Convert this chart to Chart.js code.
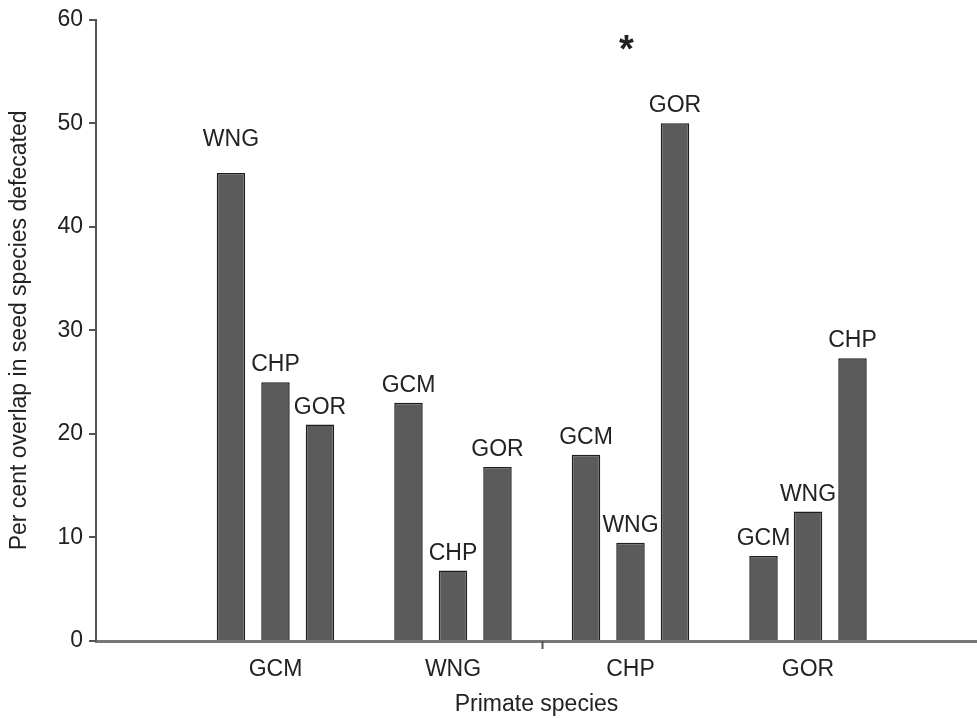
<!DOCTYPE html>
<html>
<head>
<meta charset="utf-8">
<script src="https://cdn.jsdelivr.net/npm/chart.js@4.4.0/dist/chart.umd.min.js"></script>
<style>
  html, body { margin:0; padding:0; background:#fff; }
  #wrap { width:977px; height:719px; }
</style>
</head>
<body>
<div id="wrap"><canvas id="chart" width="977" height="719"></canvas></div>
<script>
// groups on the x axis (defecating primate) and where they sit on the linear axis
const groups = ['GCM', 'WNG', 'CHP', 'GOR'];
const groupPos = [1, 2, 3, 4];

// three bars per group: per cent overlap with each other species
const firstVals = [45.2, 23.0, 18.0, 8.2];
const firstNames = ['WNG', 'GCM', 'GCM', 'GCM'];
const secondVals = [25.0, 6.8, 9.5, 12.5];
const secondNames = ['CHP', 'CHP', 'WNG', 'WNG'];
const thirdVals = [20.9, 16.8, 50.0, 27.3];
const thirdNames = ['GOR', 'GOR', 'GOR', 'CHP'];

// significance marker above a group
const starred = ['', '', '*', ''];
const starLevel = 58.0;

const yTicks = [0, 10, 20, 30, 40, 50, 60];

const FONT = '"Liberation Sans", Arial, Helvetica, sans-serif';
const INK = '#222';

// extra lift for labels that sit higher than usual above their bar
const labelLift = [[16, 0, 0, 0], [0, 0, 0, 0], [0, 0, 0, 0]];

function toPoints(vals){
  return groupPos.map((x, i) => ({ x, y: vals[i] }));
}

const barLabels = {
  id: 'barLabels',
  afterDatasetsDraw(chart){
    const ctx = chart.ctx;
    const xs = chart.scales.x, ys = chart.scales.y;
    ctx.save();
    ctx.fillStyle = INK;
    ctx.textAlign = 'center';
    ctx.textBaseline = 'alphabetic';
    ctx.font = '23px ' + FONT;
    chart.data.datasets.forEach((ds, di) => {
      chart.getDatasetMeta(di).data.forEach((bar, i) => {
        ctx.fillText(ds.names[i], bar.x, bar.y - 11 - labelLift[di][i]);
      });
    });
    // asterisk
    const starSize = 38;
    ctx.font = 'bold ' + starSize + 'px ' + FONT;
    starred.forEach((s, i) => {
      if(!s) return;
      ctx.fillText(s, xs.getPixelForValue(groupPos[i]) - 4, ys.getPixelForValue(starLevel) + 0.57 * starSize);
    });
    // lone tick mark below the x axis, between WNG and CHP
    const tx = Math.round(xs.getPixelForValue(2.5)) + 0.5;
    ctx.strokeStyle = '#555';
    ctx.lineWidth = 2;
    ctx.beginPath();
    ctx.moveTo(tx, chart.chartArea.bottom);
    ctx.lineTo(tx, chart.chartArea.bottom + 8);
    ctx.stroke();
    ctx.restore();
  }
};

const barStyle = {
  backgroundColor: '#5b5b5b',
  borderColor: '#1e1e1e',
  borderWidth: 1.5,
  categoryPercentage: 0.752,
  barPercentage: 0.64
};

new Chart(document.getElementById('chart'), {
  type: 'bar',
  data: {
    datasets: [
      { ...barStyle, label: 'first', data: toPoints(firstVals), names: firstNames },
      { ...barStyle, label: 'second', data: toPoints(secondVals), names: secondNames },
      { ...barStyle, label: 'third', data: toPoints(thirdVals), names: thirdNames }
    ]
  },
  options: {
    responsive: false,
    animation: false,
    devicePixelRatio: 1,
    layout: { padding: { top: 18, right: 0, bottom: 0, left: 0 } },
    plugins: { legend: { display: false }, tooltip: { enabled: false } },
    scales: {
      x: {
        type: 'linear',
        min: -0.011,
        max: 4.952,
        offset: false,
        afterBuildTicks: s => { s.ticks = groupPos.map(v => ({ value: v })); },
        afterFit: s => { s.height = 78; },
        ticks: {
          autoSkip: false,
          maxRotation: 0,
          padding: 15,
          color: INK,
          font: { family: FONT, size: 23 },
          callback: v => groups[groupPos.indexOf(v)] || ''
        },
        grid: { display: false, drawTicks: false },
        border: { display: true, color: '#777', width: 3 },
        title: {
          display: true,
          text: 'Primate species',
          color: INK,
          font: { family: FONT, size: 23 },
          padding: { top: 0, bottom: 1 }
        }
      },
      y: {
        min: 0,
        max: 60,
        afterBuildTicks: s => { s.ticks = yTicks.map(v => ({ value: v })); },
        afterFit: s => { s.width = 96; },
        ticks: { padding: 6, color: INK, font: { family: FONT, size: 23 } },
        grid: { display: true, drawOnChartArea: false, drawTicks: true, tickLength: 7, color: '#555', lineWidth: 2 },
        border: { display: true, color: '#555', width: 2 },
        title: {
          display: true,
          text: 'Per cent overlap in seed species defecated',
          color: INK,
          font: { family: FONT, size: 23 },
          padding: { top: 6, bottom: 0 }
        }
      }
    }
  },
  plugins: [barLabels]
});
</script>
</body>
</html>
